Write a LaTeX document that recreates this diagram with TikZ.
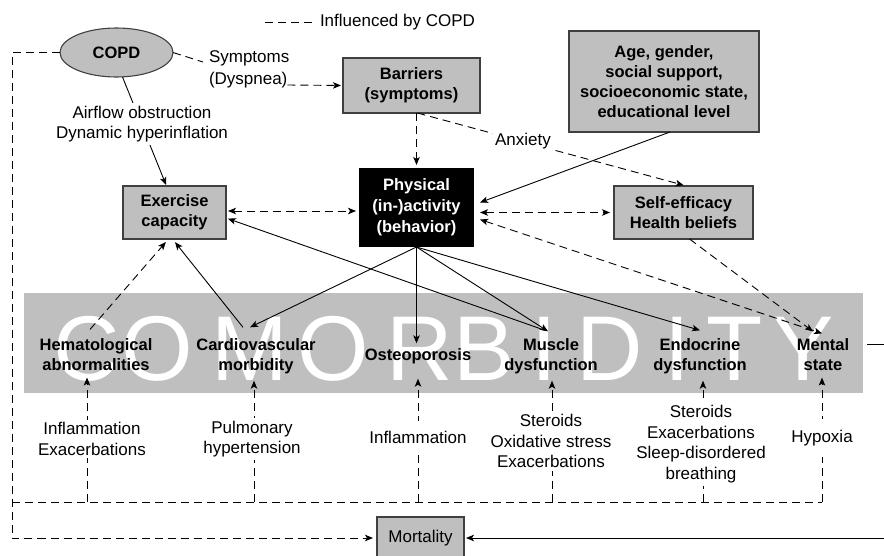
\documentclass[tikz,border=0pt]{standalone}
\usepackage{fontspec}
\setmainfont{Liberation Sans}
\usetikzlibrary{arrows.meta,shapes.geometric}

\definecolor{boxgray}{gray}{0.75}
\definecolor{bandgray}{gray}{0.75}
\definecolor{edgegray}{gray}{0.25}

\begin{document}
\begin{tikzpicture}[x=1pt,y=-1pt,
  every node/.style={inner sep=0pt, outer sep=0pt},
  reg/.style={font=\fontsize{17}{20.5}\selectfont, align=center},
  bld/.style={font=\fontsize{16.5}{20}\selectfont\bfseries, align=center},
  gbox/.style={bld, draw=edgegray, line width=1.1pt, fill=boxgray},
  lab/.style={reg, fill=white, inner xsep=2pt, inner ysep=3pt},
  comorb/.style={bld, inner xsep=2pt, inner ysep=5pt},
  conn/.style={line width=0.9pt, draw=black},
  dsh/.style={conn, dash pattern=on 8pt off 5pt},
  tip/.style={-{Stealth[length=8pt,width=6.5pt,inset=2pt]}},
  tips/.style={{Stealth[length=8pt,width=6.5pt,inset=2pt]}-{Stealth[length=8pt,width=6.5pt,inset=2pt]}},
  bigletter/.style={font=\fontsize{92}{92}\selectfont, text=white, anchor=base},
]
\useasboundingbox (0,0) rectangle (884,555);
\clip (0,0) rectangle (884,555);

% grey comorbidity band with its spaced-out title
\node[fill=bandgray, minimum width=839, minimum height=100] (band) at (443.5,343) {};
\foreach \l/\x in {C/87,O/157,M/250,O/333,R/420,B/484,I/544,D/610,I/677,T/735,Y/803}
  \node[bigletter] at (\x,380) {\l};

% legend
\node[reg, anchor=west] (legend) at (320,22) {Influenced by COPD};
\draw[dsh] ([xshift=-55pt]legend.west) -- ([xshift=-8pt]legend.west);

% upper nodes
\node[draw=edgegray, line width=1.1pt, fill=boxgray, ellipse, minimum width=113, minimum height=49, bld] (copd) at (116.5,52.5) {COPD};
\node[reg, align=left, anchor=west, font=\fontsize{17}{22}\selectfont] (sym) at (209,69) {Symptoms\\(Dyspnea)};
\node[gbox, minimum width=137, minimum height=55] (bar) at (411.5,85.5) {Barriers\\(symptoms)};
\node[gbox, minimum width=190, minimum height=101] (age) at (664,81.5) {Age, gender,\\social support,\\socioeconomic state,\\educational level};
\node[gbox, minimum width=103, minimum height=53] (ex) at (174.5,212.5) {Exercise\\capacity};
\node[bld, font=\fontsize{16.5}{21}\selectfont\bfseries, fill=black, text=white, minimum width=115, minimum height=79] (phys) at (416.5,207.5) {Physical\\(in-)activity\\(behavior)};
\node[gbox, minimum width=139, minimum height=53] (self) at (683.5,212.5) {Self-efficacy\\Health beliefs};
\node[gbox, reg, minimum width=87, minimum height=42] (mort) at (420.5,538) {Mortality};

% comorbidities
\node[comorb] (hem) at (96,354.5) {Hematological\\abnormalities};
\node[comorb] (cardio) at (256,356) {Cardiovascular\\morbidity};
\node[comorb] (osteo) at (418,356) {Osteoporosis};
\node[comorb] (muscle) at (551,356) {Muscle\\dysfunction};
\node[comorb] (endo) at (700,356) {Endocrine\\dysfunction};
\node[comorb] (mental) at (823,354.5) {Mental\\state};

% COPD and its direct effects
\draw[dsh] (copd.east) -- ([shift={(-6pt,7pt)}]sym.west);
\draw[dsh,tip,shorten >=2pt] ([shift={(-2pt,-16pt)}]sym.east) -- (bar.west);
\draw[conn,tip,shorten >=1pt] ([xshift=6pt]copd.south) -- ([xshift=-8pt]ex.north);
\draw[dsh,tip,shorten >=3pt] (bar.south -| phys.north) -- (phys.north);
\draw[dsh,tip,shorten >=3pt] ([xshift=6pt]bar.south) -- ([xshift=3pt]self.north);
\draw[conn,tip] ([xshift=6pt]age.south) -- ([shift={(6pt,5pt)}]phys.east);

% links around physical (in-)activity
\draw[dsh,tips,shorten <=2pt,shorten >=3pt] ([yshift=1.5pt]ex.east) -- ([yshift=1.5pt]ex.east -| phys.west);
\draw[dsh,tips,shorten <=6pt,shorten >=4pt] (phys.east |- self.west) -- (self.west);
\draw[dsh,tips] ([shift={(6pt,-12pt)}]phys.east) -- ([xshift=-1pt]mental.north);
\draw[dsh,tip] ([xshift=6pt]self.south) -- ([shift={(-10pt,2pt)}]mental.north);

\draw[conn,tip] (phys.south) -- ([shift={(-6pt,6pt)}]cardio.north);
\draw[conn,tip] (phys.south) -- (phys.south |- osteo.north);
\draw[conn,tip] (phys.south) -- ([shift={(-3pt,2pt)}]muscle.north);
\draw[conn,tip] (phys.south) -- ([yshift=3pt]endo.north);

% comorbidities acting back on exercise capacity
\draw[conn,tip,shorten >=4pt] ([shift={(-13pt,6pt)}]cardio.north) -- ([xshift=-2pt]ex.south);
\draw[dsh,tip,shorten >=4pt] ([shift={(-6pt,4pt)}]hem.north) -- ([xshift=-6pt]ex.south);
\draw[conn,tip,shorten >=2pt] ([shift={(-6pt,3pt)}]muscle.north) -- ([yshift=-5.5pt]ex.east);

% routes to mortality
\draw[conn,tip,shorten >=2pt] ([shift={(16pt,10.5pt)}]mental.east) -- ++(40,0) |- (mort.east);
\draw[dsh,tip,shorten >=4pt] (copd.west) -- ++(-48,0) |- (mort.west);

% COPD-driven mechanisms feeding each comorbidity
\coordinate (busL) at (12,502);
\coordinate (hb) at ([shift={(-9pt,-2pt)}]hem.south);
\coordinate (cb) at ([shift={(-2pt,-2pt)}]cardio.south);
\coordinate (ob) at ([yshift=-10pt]osteo.south);
\coordinate (mb) at ([shift={(1pt,-2pt)}]muscle.south);
\coordinate (eb) at ([shift={(3pt,-2pt)}]endo.south);
\coordinate (tb) at ([shift={(-1pt,-2pt)}]mental.south);
\draw[dsh] (busL) -- (tb |- busL);
\foreach \c in {hb,cb,ob,mb,eb,tb}
  \draw[dsh,tip] (\c |- busL) -- (\c);

% labels sitting on the connectors
\node[lab] (air) at (142,124) {Airflow obstruction\\Dynamic hyperinflation};
\node[lab] (anx) at (523,141) {Anxiety};
\node[lab] (m1) at (92,439) {Inflammation\\Exacerbations};
\node[lab] (m2) at (252,439) {Pulmonary\\hypertension};
\node[lab, minimum height=33] (m3) at (418,437) {Inflammation};
\node[lab] (m4) at (551,441) {Steroids\\Oxidative stress\\Exacerbations};
\node[lab] (m5) at (701,444) {Steroids\\Exacerbations\\Sleep-disordered\\breathing};
\node[lab, minimum height=38] (m6) at (822,438) {Hypoxia};
\end{tikzpicture}
\end{document}
